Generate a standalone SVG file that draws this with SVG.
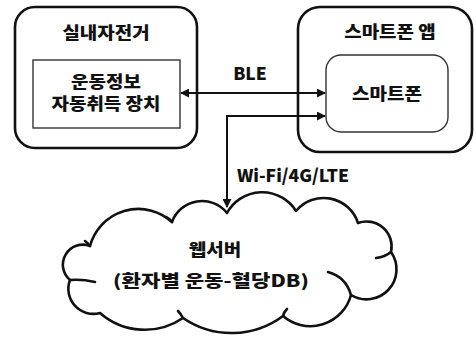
<svg xmlns="http://www.w3.org/2000/svg" width="476" height="338" viewBox="0 0 476 338">
<defs>
<style>
.outer{fill:none;stroke:#111;stroke-width:2.6}
.inner{fill:none;stroke:#333;stroke-width:1.4}
.t{font-family:"Noto Sans CJK KR","DejaVu Sans",sans-serif;font-weight:900;font-size:16.5px;fill:#111;text-anchor:middle}
.lbl{font-family:"Noto Sans CJK KR","DejaVu Sans",sans-serif;font-weight:900;font-size:17.5px;fill:#111;text-anchor:middle}
.conn{fill:none;stroke:#111;stroke-width:2}
.cloud{fill:#fff;stroke:#111;stroke-width:2.6;stroke-linejoin:round;stroke-linecap:round}
</style>
<marker id="ah" viewBox="0 0 10 10" refX="9" refY="5" markerWidth="4.5" markerHeight="4.5" orient="auto-start-reverse" markerUnits="strokeWidth">
<path d="M0,0 L10,5 L0,10 Z" fill="#111"/>
</marker>
</defs>
<rect width="476" height="338" fill="#fff"/>
<g id="bike">
<rect class="outer" x="15" y="7" width="182" height="141" rx="20"/>
<text class="t" transform="translate(106,39) scale(1.15,1)">실내자전거</text>
</g>
<g id="device">
<rect class="inner" x="33" y="60" width="147" height="68"/>
<text class="t" transform="translate(106,88) scale(1.15,1)">운동정보</text>
<text class="t" transform="translate(106,110) scale(1.15,1)">자동취득 장치</text>
</g>
<g id="app">
<rect class="outer" x="298" y="7" width="174" height="145" rx="22"/>
<text class="t" transform="translate(390,38) scale(1.15,1)">스마트폰 앱</text>
</g>
<g id="phone">
<rect class="inner" x="326" y="55" width="122" height="77" rx="15"/>
<text class="t" transform="translate(387,100) scale(1.15,1)">스마트폰</text>
</g>
<g id="server">
<path class="cloud" d="M70,280 A20,20 0 0 1 90,246 A50,50 0 0 1 172,222 A32,32 0 0 1 227,213 A40,40 0 0 1 296,211 A36,36 0 0 1 358,223 A25,25 0 0 1 391,252 A30,30 0 0 1 351,295 A42,42 0 0 1 283,316 A86,86 0 0 1 183,318 A68,68 0 0 1 100,313 A25,25 0 0 1 70,280 Z"/>
<path class="cloud" fill="none" d="M70,280 Q82,279 95,282 M391,252 Q385,257 376,258 M351,295 Q346,277 328,272 M283,316 Q284,312 287,309 M183,318 Q181,314 178,311 M172,222 Q170,219 166,217 M90,246 Q88,243 85,241"/>
<text class="t" transform="translate(215,256) scale(1.15,1)">웹서버</text>
<text class="t" transform="translate(211,287) scale(1.28,1)">(환자별 운동-혈당DB)</text>
</g>
<g id="connectors">
<line class="conn" x1="181" y1="93" x2="325" y2="93" marker-start="url(#ah)" marker-end="url(#ah)"/>
<polyline class="conn" points="227,207 227,116 325,116" marker-start="url(#ah)" marker-end="url(#ah)"/>
<text class="lbl" x="250" y="80">BLE</text>
<text class="lbl" x="293" y="182">Wi-Fi/4G/LTE</text>
</g>
</svg>
